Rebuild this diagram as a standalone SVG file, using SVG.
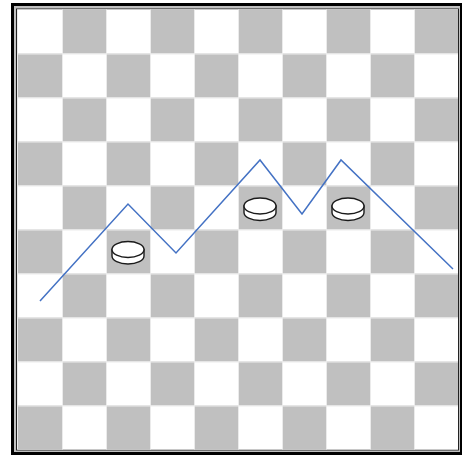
<svg xmlns="http://www.w3.org/2000/svg" width="462" height="456" viewBox="0 0 462 456">
<style>
.g{fill:#c0c0c0}
.grid line{stroke:#ebebeb;stroke-width:1}
.piece path,.piece ellipse{fill:#fff;stroke:#1a1a1a;stroke-width:1.4}
.route{fill:none;stroke:#4472c4;stroke-width:1.5;stroke-linejoin:miter}
</style>
<rect width="462" height="456" fill="#fff"/>
<g id="frame">
<rect x="12.5" y="4.5" width="449" height="449" fill="#c0c0c0" stroke="#000" stroke-width="3"/>
<rect x="16.5" y="9" width="442" height="441" fill="#fff" stroke="#222" stroke-width="1"/>
</g>
<g id="board">
<rect x="18" y="9.5" width="440" height="440" fill="#fff"/>
<g id="squares">
<rect class="g" x="62" y="9.5" width="44" height="44"/><rect class="g" x="150" y="9.5" width="44" height="44"/><rect class="g" x="238" y="9.5" width="44" height="44"/><rect class="g" x="326" y="9.5" width="44" height="44"/><rect class="g" x="414" y="9.5" width="44" height="44"/>
<rect class="g" x="18" y="53.5" width="44" height="44"/><rect class="g" x="106" y="53.5" width="44" height="44"/><rect class="g" x="194" y="53.5" width="44" height="44"/><rect class="g" x="282" y="53.5" width="44" height="44"/><rect class="g" x="370" y="53.5" width="44" height="44"/>
<rect class="g" x="62" y="97.5" width="44" height="44"/><rect class="g" x="150" y="97.5" width="44" height="44"/><rect class="g" x="238" y="97.5" width="44" height="44"/><rect class="g" x="326" y="97.5" width="44" height="44"/><rect class="g" x="414" y="97.5" width="44" height="44"/>
<rect class="g" x="18" y="141.5" width="44" height="44"/><rect class="g" x="106" y="141.5" width="44" height="44"/><rect class="g" x="194" y="141.5" width="44" height="44"/><rect class="g" x="282" y="141.5" width="44" height="44"/><rect class="g" x="370" y="141.5" width="44" height="44"/>
<rect class="g" x="62" y="185.5" width="44" height="44"/><rect class="g" x="150" y="185.5" width="44" height="44"/><rect class="g" x="238" y="185.5" width="44" height="44"/><rect class="g" x="326" y="185.5" width="44" height="44"/><rect class="g" x="414" y="185.5" width="44" height="44"/>
<rect class="g" x="18" y="229.5" width="44" height="44"/><rect class="g" x="106" y="229.5" width="44" height="44"/><rect class="g" x="194" y="229.5" width="44" height="44"/><rect class="g" x="282" y="229.5" width="44" height="44"/><rect class="g" x="370" y="229.5" width="44" height="44"/>
<rect class="g" x="62" y="273.5" width="44" height="44"/><rect class="g" x="150" y="273.5" width="44" height="44"/><rect class="g" x="238" y="273.5" width="44" height="44"/><rect class="g" x="326" y="273.5" width="44" height="44"/><rect class="g" x="414" y="273.5" width="44" height="44"/>
<rect class="g" x="18" y="317.5" width="44" height="44"/><rect class="g" x="106" y="317.5" width="44" height="44"/><rect class="g" x="194" y="317.5" width="44" height="44"/><rect class="g" x="282" y="317.5" width="44" height="44"/><rect class="g" x="370" y="317.5" width="44" height="44"/>
<rect class="g" x="62" y="361.5" width="44" height="44"/><rect class="g" x="150" y="361.5" width="44" height="44"/><rect class="g" x="238" y="361.5" width="44" height="44"/><rect class="g" x="326" y="361.5" width="44" height="44"/><rect class="g" x="414" y="361.5" width="44" height="44"/>
<rect class="g" x="18" y="405.5" width="44" height="44"/><rect class="g" x="106" y="405.5" width="44" height="44"/><rect class="g" x="194" y="405.5" width="44" height="44"/><rect class="g" x="282" y="405.5" width="44" height="44"/><rect class="g" x="370" y="405.5" width="44" height="44"/>
</g>
<g class="grid">
<line x1="17.5" y1="9.5" x2="17.5" y2="449.5"/>
<line x1="62.5" y1="9.5" x2="62.5" y2="449.5"/><line x1="106.5" y1="9.5" x2="106.5" y2="449.5"/><line x1="150.5" y1="9.5" x2="150.5" y2="449.5"/><line x1="194.5" y1="9.5" x2="194.5" y2="449.5"/><line x1="238.5" y1="9.5" x2="238.5" y2="449.5"/><line x1="282.5" y1="9.5" x2="282.5" y2="449.5"/><line x1="326.5" y1="9.5" x2="326.5" y2="449.5"/><line x1="370.5" y1="9.5" x2="370.5" y2="449.5"/><line x1="414.5" y1="9.5" x2="414.5" y2="449.5"/>
<line x1="17" y1="54" x2="458" y2="54"/><line x1="17" y1="98" x2="458" y2="98"/><line x1="17" y1="142" x2="458" y2="142"/><line x1="17" y1="186" x2="458" y2="186"/><line x1="17" y1="230" x2="458" y2="230"/><line x1="17" y1="274" x2="458" y2="274"/><line x1="17" y1="318" x2="458" y2="318"/><line x1="17" y1="362" x2="458" y2="362"/><line x1="17" y1="406" x2="458" y2="406"/>
</g>
</g>
<g id="connectors">
<polyline class="route" points="40,301 128,204 176,253 260,160 302,214 341,160 453,269"/>
</g>
<g id="piece1" class="piece">
<path d="M112,249.5 v6.5 a16,8 0 0 0 32,0 v-6.5 z"/>
<ellipse cx="128" cy="249.5" rx="16" ry="8"/>
</g>
<g id="piece2" class="piece">
<path d="M244,206 v6.5 a16,8 0 0 0 32,0 v-6.5 z"/>
<ellipse cx="260" cy="206" rx="16" ry="8"/>
</g>
<g id="piece3" class="piece">
<path d="M332,206 v6.5 a16,8 0 0 0 32,0 v-6.5 z"/>
<ellipse cx="348" cy="206" rx="16" ry="8"/>
</g>
</svg>
